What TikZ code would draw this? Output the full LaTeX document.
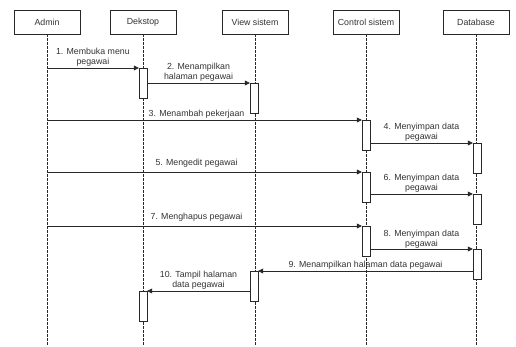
\documentclass[tikz,border=0pt]{standalone}
\usepackage{fontspec}
\setmainfont{Liberation Sans}
\usepackage{tikz}
\usetikzlibrary{arrows.meta,positioning,calc}
\definecolor{umlline}{RGB}{40,40,40}
\definecolor{umltext}{RGB}{51,51,51}

\begin{document}
\begin{tikzpicture}[x=1pt,y=-1pt,
    actor/.style={draw=umlline, fill=white, minimum width=66pt, minimum height=24pt,
        inner sep=0pt, text=umltext, font=\fontsize{8.8}{10.5}\selectfont},
    act/.style={draw=umlline, fill=white, minimum width=8pt, minimum height=30pt,
        inner sep=0pt, anchor=north},
    lifeline/.style={umlline, dash pattern=on 2.5pt off 1.5pt, line width=0.5pt},
    msg/.style={umlline, line width=0.7pt, -{Triangle[length=5pt,width=5pt]}},
    lbl/.style={text=umltext, align=center, inner sep=1.5pt,
        font=\fontsize{8.8}{10.2}\selectfont}]
\useasboundingbox (0,0) rectangle (516,347);

% Participants
\foreach \n/\x/\t in {admin/47/Admin, dekstop/143/Dekstop, view/255/View sistem,
    control/366/Control sistem, db/476/Database}
    \node[actor] (\n) at (\x,22) {\t};

% Lifelines
\coordinate (bottom) at (0,345);
\foreach \n in {admin,dekstop,view,control,db}
    \draw[lifeline] (\n.south) -- (\n.south |- bottom);

% Activation boxes
\foreach \n/\x/\y in {d1/143/68, v1/254/83, c1/366/120, b1/477/143, c2/366/172,
    b2/477/194, c3/366/226, b3/477/249, v2/254/271, d2/143/291}
    \node[act] (\n) at (\x,\y) {};

% Messages
\draw[msg] (admin |- d1.north) -- (d1.north west)
    node[lbl, midway, above] {1. Membuka menu\\pegawai};
\draw[msg] (d1.east |- v1.north) -- (v1.north west)
    node[lbl, midway, above] {2. Menampilkan\\halaman pegawai};
\draw[msg] (admin |- c1.north) -- (c1.north west)
    node[lbl, pos=0.475, above] {3. Menambah pekerjaan};
\draw[msg] (c1.east |- b1.north) -- (b1.north west)
    node[lbl, midway, above] {4. Menyimpan data\\pegawai};
\draw[msg] (admin |- c2.north) -- (c2.north west)
    node[lbl, pos=0.475, above=3pt] {5. Mengedit pegawai};
\draw[msg] (c2.east |- b2.north) -- (b2.north west)
    node[lbl, midway, above] {6. Menyimpan data\\pegawai};
\draw[msg] (admin |- c3.north) -- (c3.north west)
    node[lbl, pos=0.475, above=3pt] {7. Menghapus pegawai};
\draw[msg] (c3.east |- b3.north) -- (b3.north west)
    node[lbl, midway, above, inner sep=0.5pt] {8. Menyimpan data\\pegawai};
\draw[msg] (b3.west |- v2.north) -- (v2.north east)
    node[lbl, midway, above] {9. Menampilkan halaman data pegawai};
\draw[msg] (v2.west |- d2.north) -- (d2.north east)
    node[lbl, midway, above] {10. Tampil halaman\\data pegawai};
\end{tikzpicture}
\end{document}
